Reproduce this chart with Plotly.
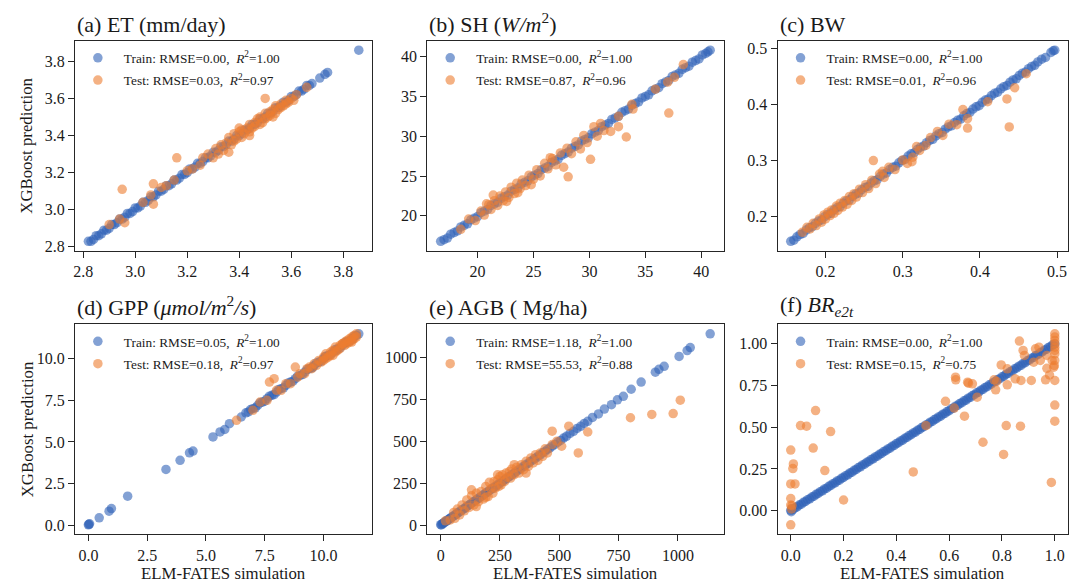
import plotly.graph_objects as go

W, H = 1071, 588

# ---------------- (a) ET ----------------
a_train_x = [2.82, 2.83, 2.84, 2.85, 2.86, 2.87, 2.88, 2.89, 2.90, 2.91,
             2.92, 2.93, 2.94, 2.95, 2.96, 2.97, 2.98, 2.99, 3.00, 3.01,
             3.02, 3.03, 3.04, 3.05, 3.06, 3.07, 3.08, 3.09, 3.10, 3.11,
             3.12, 3.13, 3.14, 3.15, 3.16, 3.17, 3.18, 3.19, 3.20, 3.21,
             3.22, 3.23, 3.24, 3.25, 3.26, 3.27, 3.28, 3.29, 3.30, 3.31,
             3.32, 3.33, 3.34, 3.35, 3.36, 3.37, 3.38, 3.39, 3.40, 3.41,
             3.42, 3.43, 3.44, 3.45, 3.46, 3.47, 3.48, 3.49, 3.50, 3.51,
             3.52, 3.53, 3.54, 3.55, 3.56, 3.57, 3.58, 3.59, 3.60, 3.61,
             3.62, 3.63, 3.64, 3.65, 3.66, 3.67, 3.68, 3.71, 3.73, 3.74,
             3.86]
a_train_y = [2.83, 2.83, 2.84, 2.86, 2.86, 2.87, 2.89, 2.89, 2.90, 2.92,
             2.92, 2.93, 2.95, 2.95, 2.96, 2.98, 2.98, 2.99, 3.01, 3.01,
             3.02, 3.04, 3.04, 3.05, 3.07, 3.07, 3.08, 3.10, 3.10, 3.11,
             3.13, 3.13, 3.14, 3.16, 3.16, 3.17, 3.19, 3.19, 3.20, 3.22,
             3.22, 3.23, 3.25, 3.25, 3.26, 3.28, 3.28, 3.29, 3.31, 3.31,
             3.32, 3.34, 3.34, 3.35, 3.37, 3.37, 3.38, 3.40, 3.40, 3.41,
             3.43, 3.43, 3.44, 3.46, 3.46, 3.47, 3.49, 3.49, 3.50, 3.52,
             3.52, 3.53, 3.55, 3.55, 3.56, 3.58, 3.58, 3.59, 3.61, 3.61,
             3.62, 3.64, 3.64, 3.65, 3.67, 3.67, 3.68, 3.71, 3.73, 3.74,
             3.86]
a_test_x = [2.90, 2.94, 2.96, 2.95, 3.03, 3.06, 3.07, 3.07, 3.10, 3.12,
            3.15, 3.16, 3.20, 3.22, 3.25, 3.26, 3.28, 3.30, 3.31, 3.32,
            3.33, 3.34, 3.35, 3.36, 3.37, 3.38, 3.38, 3.39, 3.40, 3.41,
            3.41, 3.42, 3.43, 3.44, 3.44, 3.45, 3.46, 3.46, 3.47, 3.48,
            3.48, 3.49, 3.50, 3.50, 3.51, 3.52, 3.52, 3.53, 3.54, 3.54,
            3.55, 3.56, 3.56, 3.57, 3.58, 3.58, 3.59, 3.60, 3.61, 3.62,
            3.44, 3.36, 3.50, 3.53, 3.40, 3.66]
a_test_y = [2.92, 2.95, 2.93, 3.11, 3.04, 3.08, 3.14, 3.03, 3.12, 3.13,
            3.16, 3.28, 3.21, 3.22, 3.24, 3.28, 3.30, 3.28, 3.33, 3.30,
            3.35, 3.32, 3.36, 3.39, 3.35, 3.37, 3.41, 3.38, 3.42, 3.39,
            3.43, 3.41, 3.44, 3.42, 3.46, 3.44, 3.47, 3.45, 3.49, 3.46,
            3.50, 3.47, 3.52, 3.49, 3.50, 3.53, 3.51, 3.54, 3.52, 3.56,
            3.54, 3.57, 3.55, 3.56, 3.59, 3.57, 3.58, 3.60, 3.59, 3.62,
            3.40, 3.31, 3.60, 3.50, 3.44, 3.66]

# ---------------- (b) SH ----------------
b_train_x = [16.7, 17.0, 17.3, 17.6, 17.9, 18.2, 18.5, 18.8, 19.1, 19.4,
             19.7, 20.0, 20.3, 20.6, 20.9, 21.2, 21.5, 21.8, 22.1, 22.4,
             22.7, 23.0, 23.3, 23.6, 23.9, 24.2, 24.5, 24.8, 25.1, 25.4,
             25.7, 26.0, 26.3, 26.6, 26.9, 27.2, 27.5, 27.8, 28.1, 28.4,
             28.7, 29.0, 29.3, 29.6, 29.9, 30.2, 30.5, 30.8, 31.1, 31.4,
             31.7, 32.0, 32.3, 32.6, 32.9, 33.2, 33.5, 33.8, 34.1, 34.4,
             34.7, 35.0, 35.3, 35.6, 35.9, 36.2, 36.5, 36.8, 37.1, 37.4,
             37.7, 38.0, 38.3, 38.6, 38.9, 39.2, 39.5, 39.8, 40.1, 40.4,
             40.6, 40.8]
b_train_y = [16.8, 17.0, 17.2, 17.7, 17.9, 18.1, 18.6, 18.8, 19.0, 19.5,
             19.7, 19.9, 20.4, 20.6, 20.8, 21.3, 21.5, 21.7, 22.2, 22.4,
             22.6, 23.1, 23.3, 23.5, 24.0, 24.2, 24.4, 24.9, 25.1, 25.3,
             25.8, 26.0, 26.2, 26.7, 26.9, 27.1, 27.6, 27.8, 28.0, 28.5,
             28.7, 28.9, 29.4, 29.6, 29.8, 30.3, 30.5, 30.7, 31.2, 31.4,
             31.6, 32.1, 32.3, 32.5, 33.0, 33.2, 33.4, 33.9, 34.1, 34.3,
             34.8, 35.0, 35.2, 35.7, 35.9, 36.1, 36.6, 36.8, 37.0, 37.5,
             37.7, 37.9, 38.4, 38.6, 38.8, 39.3, 39.5, 39.7, 40.2, 40.4,
             40.6, 40.8]
b_test_x = [18.5, 19.2, 19.8, 20.3, 20.6, 21.0, 21.2, 21.5, 21.8, 22.0,
            22.3, 22.5, 22.8, 23.0, 23.3, 23.5, 23.8, 24.0, 24.3, 24.6,
            25.0, 25.3, 25.6, 26.0, 26.3, 26.7, 27.0, 27.4, 27.7, 28.0,
            28.1, 28.4, 28.8, 29.2, 29.5, 29.8, 30.1, 30.4, 30.7, 31.0,
            31.3, 31.9, 32.6, 32.6, 33.3, 33.8, 33.9, 35.9, 37.0, 37.1,
            37.6, 38.4, 21.4, 22.6, 24.8, 26.5, 20.8, 23.6]
b_test_y = [18.3, 19.6, 19.4, 20.6, 20.1, 21.4, 20.8, 21.9, 21.3, 22.5,
            21.9, 23.0, 22.3, 23.6, 22.8, 24.1, 23.4, 24.5, 23.8, 25.1,
            24.6, 25.8, 25.0, 26.6, 25.9, 27.2, 26.4, 27.9, 26.1, 28.5,
            24.9, 27.8, 29.3, 28.4, 30.1, 29.2, 27.1, 31.2, 30.0, 31.6,
            30.7, 30.6, 32.5, 31.2, 29.9, 34.0, 33.4, 35.9, 36.8, 32.9,
            37.4, 39.0, 22.6, 21.8, 23.9, 27.3, 21.5, 22.9]

# ---------------- (c) BW ----------------
c_train_x = [0.155, 0.159, 0.163, 0.167, 0.171, 0.175, 0.179, 0.183, 0.187, 0.191,
             0.195, 0.199, 0.203, 0.207, 0.211, 0.215, 0.219, 0.223, 0.227, 0.231,
             0.235, 0.239, 0.243, 0.247, 0.251, 0.255, 0.259, 0.263, 0.267, 0.271,
             0.275, 0.279, 0.283, 0.287, 0.291, 0.295, 0.299, 0.303, 0.307, 0.311,
             0.315, 0.319, 0.323, 0.327, 0.331, 0.335, 0.339, 0.343, 0.347, 0.351,
             0.355, 0.359, 0.363, 0.367, 0.371, 0.375, 0.379, 0.383, 0.387, 0.391,
             0.395, 0.399, 0.403, 0.407, 0.411, 0.415, 0.419, 0.423, 0.427, 0.431,
             0.435, 0.439, 0.443, 0.447, 0.451, 0.455, 0.459, 0.463, 0.467, 0.471,
             0.475, 0.480, 0.485, 0.492, 0.495, 0.497]
c_train_y = [0.156, 0.158, 0.164, 0.168, 0.170, 0.176, 0.180, 0.182, 0.188, 0.192,
             0.194, 0.200, 0.204, 0.206, 0.212, 0.216, 0.218, 0.224, 0.228, 0.230,
             0.236, 0.240, 0.242, 0.248, 0.252, 0.254, 0.260, 0.264, 0.266, 0.272,
             0.276, 0.278, 0.284, 0.288, 0.290, 0.296, 0.300, 0.302, 0.308, 0.312,
             0.314, 0.320, 0.324, 0.326, 0.332, 0.336, 0.338, 0.344, 0.348, 0.350,
             0.356, 0.360, 0.362, 0.368, 0.372, 0.374, 0.380, 0.384, 0.386, 0.392,
             0.396, 0.398, 0.404, 0.408, 0.410, 0.416, 0.420, 0.422, 0.428, 0.432,
             0.434, 0.440, 0.444, 0.446, 0.452, 0.456, 0.458, 0.464, 0.468, 0.470,
             0.476, 0.481, 0.484, 0.493, 0.496, 0.497]
c_test_x = [0.170, 0.176, 0.180, 0.184, 0.188, 0.192, 0.195, 0.198, 0.200, 0.203,
            0.206, 0.208, 0.211, 0.214, 0.216, 0.219, 0.222, 0.225, 0.228, 0.231,
            0.234, 0.237, 0.240, 0.244, 0.248, 0.252, 0.256, 0.260, 0.265, 0.270,
            0.276, 0.282, 0.290, 0.300, 0.306, 0.312, 0.318, 0.330, 0.336, 0.352,
            0.360, 0.378, 0.384, 0.384, 0.410, 0.435, 0.438, 0.445, 0.460, 0.262,
            0.274, 0.313, 0.322, 0.345, 0.370]
c_test_y = [0.172, 0.181, 0.178, 0.188, 0.184, 0.196, 0.190, 0.203, 0.196, 0.208,
            0.202, 0.212, 0.206, 0.219, 0.211, 0.224, 0.217, 0.229, 0.222, 0.236,
            0.229, 0.241, 0.235, 0.249, 0.243, 0.257, 0.250, 0.265, 0.259, 0.276,
            0.270, 0.288, 0.284, 0.301, 0.295, 0.298, 0.325, 0.327, 0.341, 0.345,
            0.365, 0.391, 0.375, 0.358, 0.405, 0.410, 0.360, 0.430, 0.455, 0.300,
            0.281, 0.306, 0.318, 0.352, 0.364]

# ---------------- (d) GPP ----------------
d_train_x = [0.00, 0.02, 0.05, 0.46, 0.88, 0.98, 1.67, 3.30, 3.90, 4.30,
             4.45, 5.30, 5.60, 5.80, 6.00, 6.50, 6.70, 6.80, 6.90, 7.00,
             7.10, 7.20, 7.30, 7.40, 7.50, 7.60, 7.70, 7.80, 7.90, 8.00,
             8.10, 8.20, 8.30, 8.40, 8.50, 8.60, 8.70, 8.80, 8.90, 9.00,
             9.10, 9.20, 9.30, 9.40, 9.50, 9.60, 9.70, 9.80, 9.90, 10.00,
             10.10, 10.20, 10.30, 10.40, 10.50, 10.60, 10.70, 10.80, 10.90, 11.00,
             11.10, 11.20, 11.30, 11.40, 11.50, 9.55, 10.05, 10.55, 10.95, 11.25]
d_train_y = [0.02, 0.05, 0.08, 0.44, 0.84, 1.00, 1.74, 3.35, 3.90, 4.35,
             4.45, 5.30, 5.60, 5.75, 6.10, 6.50, 6.75, 6.80, 6.95, 7.00,
             7.05, 7.20, 7.35, 7.40, 7.45, 7.60, 7.75, 7.80, 7.85, 8.00,
             8.15, 8.20, 8.25, 8.40, 8.55, 8.60, 8.65, 8.80, 8.95, 9.00,
             9.05, 9.20, 9.35, 9.40, 9.45, 9.60, 9.75, 9.80, 9.85, 10.00,
             10.15, 10.20, 10.25, 10.40, 10.55, 10.60, 10.65, 10.80, 10.95, 11.00,
             11.05, 11.20, 11.35, 11.40, 11.50, 9.50, 10.10, 10.50, 11.00, 11.20]
d_test_x = [6.3, 7.0, 7.3, 7.6, 7.7, 7.9, 8.0, 8.2, 8.4, 8.6,
            8.8, 8.9, 9.0, 9.2, 9.3, 9.5, 9.6, 9.7, 9.8, 9.9,
            10.0, 10.1, 10.1, 10.2, 10.3, 10.3, 10.4, 10.5, 10.5, 10.6,
            10.7, 10.7, 10.8, 10.9, 10.9, 11.0, 11.0, 11.1, 11.1, 11.2,
            11.2, 11.3, 11.3, 11.4, 11.4, 10.4, 10.8, 10.0, 9.4, 11.2]
d_test_y = [6.3, 6.9, 7.4, 7.5, 8.6, 8.8, 8.1, 8.1, 8.5, 8.5,
            9.5, 8.9, 9.1, 9.1, 9.4, 9.4, 9.7, 9.6, 9.9, 9.8,
            10.1, 10.0, 10.3, 10.1, 10.4, 10.2, 10.5, 10.4, 10.7, 10.5,
            10.8, 10.6, 10.9, 10.8, 11.0, 10.9, 11.1, 11.0, 11.2, 11.1,
            11.3, 11.2, 11.4, 11.3, 11.5, 10.2, 10.9, 9.9, 9.5, 11.0]

# ---------------- (e) AGB ----------------
e_train_x = [0, 3, 6, 10, 14, 18, 22, 26, 30, 35,
             40, 45, 50, 55, 60, 65, 70, 75, 80, 86,
             92, 98, 104, 110, 116, 122, 128, 134, 140, 146,
             152, 158, 164, 170, 176, 182, 188, 194, 200, 207,
             214, 221, 228, 235, 242, 249, 256, 263, 270, 277,
             284, 291, 298, 306, 314, 322, 330, 338, 346, 354,
             362, 370, 378, 386, 394, 402, 410, 420, 430, 440,
             450, 460, 470, 482, 494, 506, 518, 530, 545, 560,
             575, 590, 605, 620, 640, 665, 690, 720, 745, 770,
             803, 845, 905, 920, 942, 1005, 1039, 1052, 1136]
e_train_y = [2, 1, 7, 9, 15, 17, 23, 25, 31, 34,
             41, 44, 51, 54, 61, 64, 71, 74, 81, 85,
             93, 97, 105, 109, 117, 121, 129, 133, 141, 145,
             153, 157, 165, 169, 177, 181, 189, 193, 201, 206,
             215, 220, 229, 234, 243, 248, 257, 262, 271, 276,
             285, 290, 299, 305, 315, 321, 331, 337, 347, 353,
             363, 369, 379, 385, 395, 401, 411, 419, 431, 439,
             451, 459, 471, 481, 495, 505, 519, 529, 546, 559,
             576, 589, 606, 619, 642, 663, 692, 718, 747, 768,
             810, 853, 912, 929, 947, 1006, 1041, 1059, 1141]
e_test_x = [20, 40, 55, 70, 80, 90, 100, 110, 120, 130,
            140, 150, 160, 170, 180, 190, 200, 205, 210, 220,
            225, 230, 240, 245, 250, 255, 260, 270, 275, 280,
            290, 295, 300, 310, 320, 330, 340, 350, 360, 370,
            380, 390, 400, 410, 420, 430, 440, 450, 470, 490,
            510, 540, 470, 580, 620, 800, 890, 980, 1010, 60,
            130, 190, 240, 310, 360, 150]
e_test_y = [25, 30, 75, 95, 60, 120, 85, 150, 105, 175,
            120, 190, 140, 200, 155, 230, 170, 255, 215, 190,
            260, 220, 270, 230, 290, 240, 300, 260, 310, 285,
            320, 280, 335, 300, 345, 310, 360, 330, 380, 350,
            400, 370, 420, 385, 430, 410, 455, 430, 480, 500,
            470, 590, 560, 430, 555, 640, 660, 665, 745, 40,
            210, 165, 300, 360, 310, 110]

# ---------------- (f) BR_e2t ----------------
f_train_x = [0.000, 0.008, 0.016, 0.024, 0.032, 0.040, 0.048, 0.056, 0.064, 0.072,
             0.080, 0.088, 0.096, 0.104, 0.112, 0.120, 0.128, 0.136, 0.144, 0.152,
             0.160, 0.168, 0.176, 0.184, 0.192, 0.200, 0.208, 0.216, 0.224, 0.232,
             0.240, 0.248, 0.256, 0.264, 0.272, 0.280, 0.288, 0.296, 0.304, 0.312,
             0.320, 0.328, 0.336, 0.344, 0.352, 0.360, 0.368, 0.376, 0.384, 0.392,
             0.400, 0.408, 0.416, 0.424, 0.432, 0.440, 0.448, 0.456, 0.464, 0.472,
             0.480, 0.488, 0.496, 0.504, 0.512, 0.520, 0.528, 0.536, 0.544, 0.552,
             0.560, 0.568, 0.576, 0.584, 0.592, 0.600, 0.608, 0.616, 0.624, 0.632,
             0.640, 0.648, 0.656, 0.664, 0.672, 0.680, 0.688, 0.696, 0.704, 0.712,
             0.720, 0.728, 0.736, 0.744, 0.752, 0.760, 0.768, 0.776, 0.784, 0.792,
             0.800, 0.808, 0.816, 0.824, 0.832, 0.840, 0.848, 0.856, 0.864, 0.872,
             0.880, 0.888, 0.896, 0.904, 0.912, 0.920, 0.928, 0.936, 0.944, 0.952,
             0.960, 0.968, 0.976, 0.984, 0.992, 1.000, 0.002, 0.004]
f_train_y = [0.002, 0.006, 0.017, 0.023, 0.034, 0.039, 0.050, 0.055, 0.066, 0.071,
             0.082, 0.087, 0.098, 0.103, 0.114, 0.119, 0.130, 0.135, 0.146, 0.151,
             0.162, 0.167, 0.178, 0.183, 0.194, 0.199, 0.210, 0.215, 0.226, 0.231,
             0.242, 0.247, 0.258, 0.263, 0.274, 0.279, 0.290, 0.295, 0.306, 0.311,
             0.322, 0.327, 0.338, 0.343, 0.354, 0.359, 0.370, 0.375, 0.386, 0.391,
             0.402, 0.407, 0.418, 0.423, 0.434, 0.439, 0.450, 0.455, 0.466, 0.471,
             0.482, 0.487, 0.498, 0.503, 0.514, 0.519, 0.530, 0.535, 0.546, 0.551,
             0.562, 0.567, 0.578, 0.583, 0.594, 0.599, 0.610, 0.615, 0.626, 0.631,
             0.642, 0.647, 0.658, 0.663, 0.674, 0.679, 0.690, 0.695, 0.706, 0.711,
             0.722, 0.727, 0.738, 0.743, 0.754, 0.759, 0.770, 0.775, 0.786, 0.791,
             0.802, 0.807, 0.818, 0.823, 0.834, 0.839, 0.850, 0.855, 0.866, 0.871,
             0.882, 0.887, 0.898, 0.903, 0.914, 0.919, 0.930, 0.935, 0.946, 0.951,
             0.962, 0.967, 0.978, 0.983, 0.994, 0.999, -0.006, 0.012]
f_test_x = [0.000, 0.010, 0.008, 0.000, 0.016, 0.000, 0.005, 0.037, 0.060, 0.094,
            0.085, 0.129, 0.151, 0.200, 0.464, 0.512, 0.586, 0.619, 0.658, 0.625,
            0.673, 0.688, 0.706, 0.728, 0.776, 0.770, 0.806, 0.816, 0.820, 0.870,
            0.872, 0.911, 0.965, 0.987, 1.000, 1.000, 1.000, 0.970, 0.980, 0.866,
            0.880, 0.927, 0.940, 0.797, 0.820, 0.780, 0.850, 0.624, 0.670, 0.970,
            0.990, 0.920, 0.945, 0.885, 0.000, 0.000, 1.000, 1.000, 1.000, 1.000,
            1.000, 1.000, 1.000, 1.000, 0.998, 0.996, 0.003]
f_test_y = [0.363, 0.280, 0.252, 0.160, 0.160, 0.073, 0.030, 0.510, 0.506, 0.600,
            0.375, 0.240, 0.474, 0.064, 0.232, 0.510, 0.655, 0.615, 0.566, 0.784,
            0.764, 0.760, 0.680, 0.410, 0.724, 0.784, 0.337, 0.510, 0.754, 0.506,
            0.780, 0.780, 0.784, 0.169, 0.633, 0.536, 0.780, 0.853, 0.813, 1.016,
            0.960, 0.970, 0.980, 0.873, 0.850, 0.774, 0.790, 0.800, 0.770, 0.930,
            0.900, 0.890, 0.900, 0.930, 0.034, -0.085, 1.060, 1.040, 1.020, 1.000,
            0.980, 0.960, 0.940, 0.900, 0.870, 0.860, 0.010]

titles = ["(a) ET (mm/day)",
          "(b) SH (<i>W/m</i><sup>2</sup>)",
          "(c) BW",
          "(d) GPP (<i>μmol/m</i><sup>2</sup><i>/s</i>)",
          "(e) AGB ( Mg/ha)",
          "(f) <i>BR</i><sub><i>e2t</i></sub>"]
train_rmse = ["0.00", "0.00", "0.00", "0.05", "1.18", "0.00"]
train_r2 = ["1.00", "1.00", "1.00", "1.00", "1.00", "1.00"]
test_rmse = ["0.03", "0.87", "0.01", "0.18", "55.53", "0.15"]
test_r2 = ["0.97", "0.96", "0.96", "0.97", "0.88", "0.75"]

x_ticks = [[2.8, 3.0, 3.2, 3.4, 3.6, 3.8], [20, 25, 30, 35, 40], [0.2, 0.3, 0.4, 0.5],
           [0.0, 2.5, 5.0, 7.5, 10.0], [0, 250, 500, 750, 1000], [0.0, 0.2, 0.4, 0.6, 0.8, 1.0]]
y_ticks = [[2.8, 3.0, 3.2, 3.4, 3.6, 3.8], [20, 25, 30, 35, 40], [0.2, 0.3, 0.4, 0.5],
           [0.0, 2.5, 5.0, 7.5, 10.0], [0, 250, 500, 750, 1000], [0.00, 0.25, 0.50, 0.75, 1.00]]
x_fmt = [".1f", "d", ".1f", ".1f", "d", ".1f"]
y_fmt = [".1f", "d", ".1f", ".1f", "d", ".2f"]

data = [(a_train_x, a_train_y, a_test_x, a_test_y),
        (b_train_x, b_train_y, b_test_x, b_test_y),
        (c_train_x, c_train_y, c_test_x, c_test_y),
        (d_train_x, d_train_y, d_test_x, d_test_y),
        (e_train_x, e_train_y, e_test_x, e_test_y),
        (f_train_x, f_train_y, f_test_x, f_test_y)]

FONT = "Liberation Serif, Times New Roman, serif"
TRAIN_C = "rgba(49,99,184,0.6)"
TEST_C = "rgba(237,125,49,0.6)"
AX_C = "#262626"
TXT_C = "#1a1a1a"

col_px = [(73, 371), (426, 723), (777, 1068)]
row_px = [(41, 253), (327, 539)]

fig = go.Figure()
layout = dict(width=W, height=H, margin=dict(l=0, r=0, t=0, b=0),
              paper_bgcolor="white", plot_bgcolor="white",
              font=dict(family=FONT, color=TXT_C),
              annotations=[])

nbsp = "\u00a0"
for i in range(6):
    r, c = divmod(i, 3)
    k = "" if i == 0 else str(i + 1)
    trx, tr_y, tex, tey = data[i]
    lg = "legend" if i == 0 else "legend%d" % (i + 1)
    fig.add_trace(go.Scatter(
        x=trx, y=tr_y, mode="markers", xaxis="x" + k, yaxis="y" + k,
        name="Train: RMSE=%s,%s%s<i>R</i><sup>2</sup>=%s" % (train_rmse[i], nbsp, nbsp, train_r2[i]),
        legendgroup="train%d" % i,
        marker=dict(size=9.5, color=TRAIN_C, line=dict(width=0)), legend=lg))
    fig.add_trace(go.Scatter(
        x=tex, y=tey, mode="markers", xaxis="x" + k, yaxis="y" + k,
        name="Test: RMSE=%s,%s%s<i>R</i><sup>2</sup>=%s" % (test_rmse[i], nbsp, nbsp, test_r2[i]),
        legendgroup="test%d" % i,
        marker=dict(size=9.5, color=TEST_C, line=dict(width=0)), legend=lg))

    allx = list(trx) + list(tex)
    ally = list(tr_y) + list(tey)
    xmin, xmax = min(allx), max(allx)
    ymin, ymax = min(ally), max(ally)
    mx = 0.05 * (xmax - xmin)
    my = 0.05 * (ymax - ymin)
    x0, x1 = col_px[c]
    y0, y1 = row_px[r]
    xdom = [x0 / W, x1 / W]
    ydom = [1 - y1 / H, 1 - y0 / H]
    axcommon = dict(showline=True, linecolor=AX_C, linewidth=1, mirror=True,
                    ticks="outside", ticklen=6, tickwidth=1, tickcolor=AX_C,
                    showgrid=False, zeroline=False,
                    tickfont=dict(family=FONT, size=16, color=TXT_C))
    layout["xaxis" + k] = dict(domain=xdom, anchor="y" + k, range=[xmin - mx, xmax + mx],
                               tickvals=x_ticks[i], tickformat=x_fmt[i], **axcommon)
    layout["yaxis" + k] = dict(domain=ydom, anchor="x" + k, range=[ymin - my, ymax + my],
                               tickvals=y_ticks[i], tickformat=y_fmt[i], **axcommon)
    layout[lg] = dict(x=(x0 - 3) / W, y=1 - (y0 + 2) / H, xanchor="left", yanchor="top",
                      bgcolor="rgba(0,0,0,0)", borderwidth=0,
                      font=dict(family=FONT, size=13.3, color=TXT_C),
                      tracegroupgap=2, itemwidth=42)
    layout["annotations"].append(dict(
        text=titles[i], x=x0 / W, y=1 - (y0 - 2) / H, xref="paper", yref="paper",
        xanchor="left", yanchor="bottom", showarrow=False,
        font=dict(family=FONT, size=22, color=TXT_C)))
    if c == 0:
        layout["annotations"].append(dict(
            text="XGBoost prediction", x=25 / W, y=1 - ((y0 + y1) / 2) / H,
            xref="paper", yref="paper", xanchor="center", yanchor="middle",
            textangle=-90, showarrow=False,
            font=dict(family=FONT, size=16.8, color=TXT_C)))
    if r == 1:
        layout["annotations"].append(dict(
            text="ELM-FATES simulation", x=((x0 + x1) / 2) / W, y=1 - 578 / H,
            xref="paper", yref="paper", xanchor="center", yanchor="middle",
            showarrow=False, font=dict(family=FONT, size=16.8, color=TXT_C)))

fig.update_layout(**layout)
fig.write_html("out.html")
